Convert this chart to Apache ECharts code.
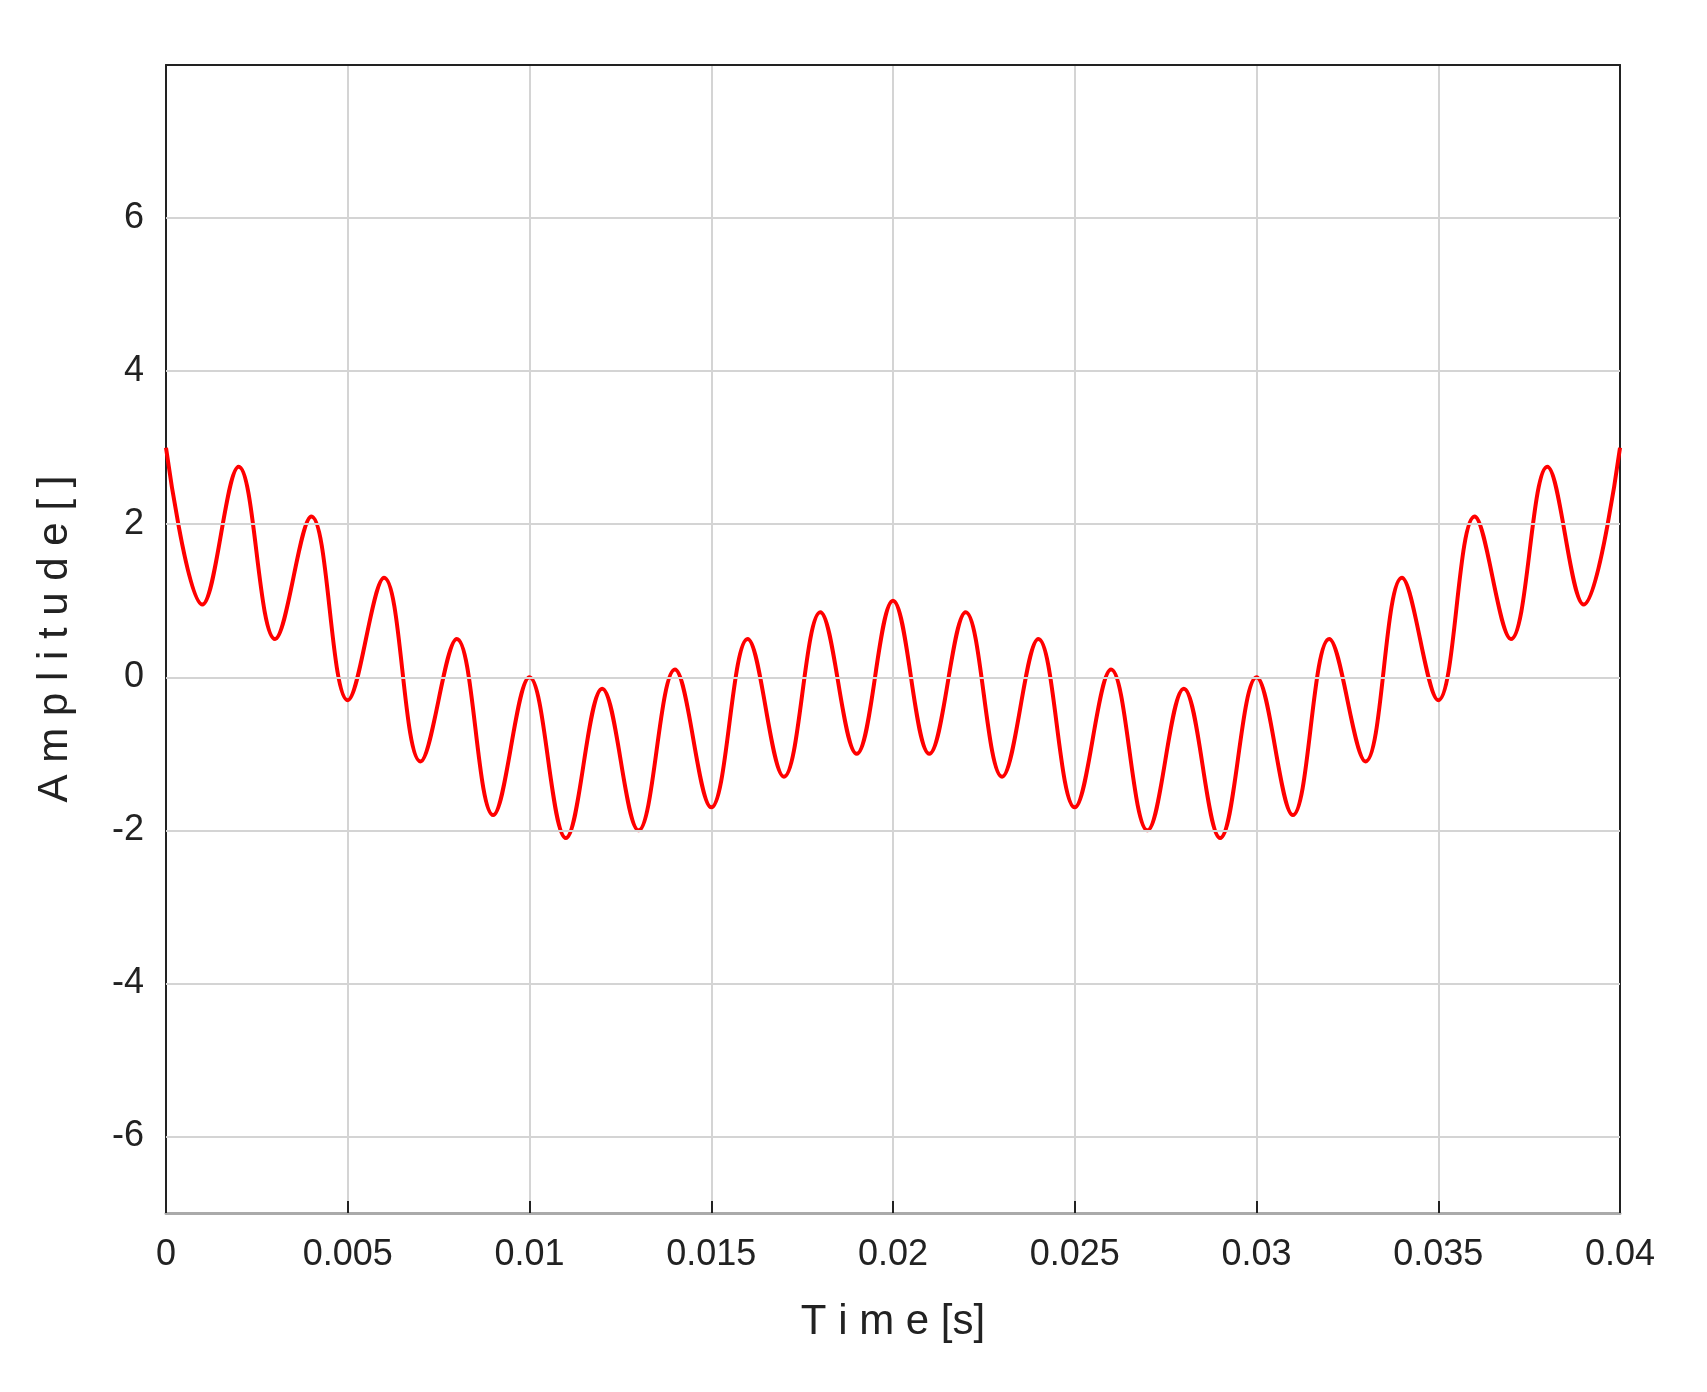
<!DOCTYPE html>
<html><head><meta charset="utf-8">
<script src="https://cdn.jsdelivr.net/npm/echarts@6/dist/echarts.min.js"></script>
<style>html,body{margin:0;padding:0;background:#fff}#c{width:1707px;height:1392px}</style>
</head><body><div id="c"></div>
<script>
const times = [0,0.001,0.002,0.003,0.004,0.005,0.006,0.007,0.008,0.009,0.010,0.011,0.012,0.013,0.014,0.015,0.016,0.017,0.018,0.019,0.020,0.021,0.022,0.023,0.024,0.025,0.026,0.027,0.028,0.029,0.030,0.031,0.032,0.033,0.034,0.035,0.036,0.037,0.038,0.039,0.040];
const amplitude = [3.0,0.95,2.75,0.5,2.1,-0.3,1.3,-1.1,0.5,-1.8,0.0,-2.1,-0.15,-2.0,0.1,-1.7,0.5,-1.3,0.85,-1.0,1.0,-1.0,0.85,-1.3,0.5,-1.7,0.1,-2.0,-0.15,-2.1,0.0,-1.8,0.5,-1.1,1.3,-0.3,2.1,0.5,2.75,0.95,3.0];
const yGridValues = [-6,-4,-2,0,2,4,6];

const chart = echarts.init(document.getElementById('c'));
const font = 'Liberation Sans, Arial, sans-serif';
const hiddenAxis = {axisLabel:{show:false},axisTick:{show:false},splitLine:{show:false}};
chart.setOption({
  backgroundColor:'#fff',
  animation:false,
  grid:{left:166,right:87,top:65,bottom:179},
  xAxis:[{type:'value',min:0,max:0.04,interval:0.005,
    name:'T i m e [s]',nameLocation:'middle',nameGap:88,
    nameTextStyle:{fontSize:42,color:'#222',fontFamily:font},
    axisLine:{show:true,onZero:false,lineStyle:{color:'#aaa',width:3}},
    axisTick:{show:true,inside:true,length:12,lineStyle:{color:'#222',width:2}},
    axisLabel:{fontSize:36,color:'#222',fontFamily:font,margin:24,formatter:v=>String(+v.toFixed(3))},
    splitLine:{show:true,lineStyle:{color:'#d4d4d4',width:2}}},
    Object.assign({type:'value',position:'top',min:0,max:0.04,axisLine:{show:true,onZero:false,lineStyle:{color:'#222',width:2}}},hiddenAxis)],
  yAxis:[{type:'value',min:-7,max:8,interval:1,
    name:'A m p l i t u d e [ ]',nameLocation:'middle',nameGap:90,
    nameTextStyle:{fontSize:42,color:'#222',fontFamily:font},
    axisLine:{show:true,onZero:false,lineStyle:{color:'#222',width:2}},axisTick:{show:false},
    axisLabel:{fontSize:36,color:'#222',fontFamily:font,margin:22,formatter:v=>(v%2===0 && v>=-6 && v<=6)?String(v):''},
    splitLine:{show:false}},
    Object.assign({type:'value',position:'right',min:-7,max:8,axisLine:{show:true,onZero:false,lineStyle:{color:'#222',width:2}}},hiddenAxis)],
  series:[{type:'line',data:times.map((t,i)=>[t,amplitude[i]]),smooth:0.38,showSymbol:false,
    lineStyle:{color:'#ff0000',width:4},
    markLine:{silent:true,symbol:'none',label:{show:false},animation:false,
      lineStyle:{color:'#d4d4d4',width:2,type:'solid'},
      data:yGridValues.map(v=>({yAxis:v}))},
    z:3}]
});
</script></body></html>
